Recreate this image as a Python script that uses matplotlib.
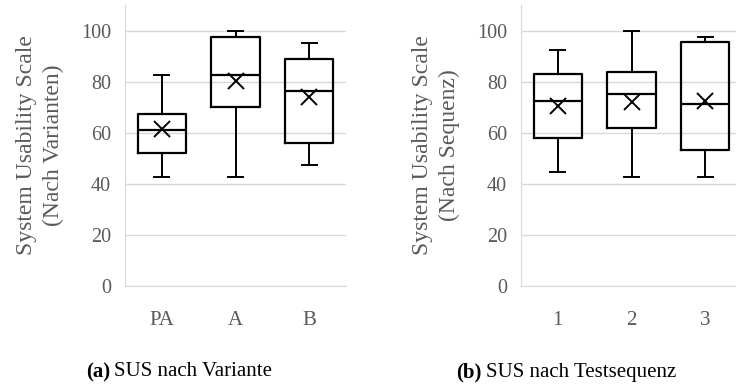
import matplotlib.pyplot as plt

# box statistics (whisker low, Q1, median, Q3, whisker high, mean)
variants = ["PA", "A", "B"]
var_low = [42.5, 42.5, 47.5]
var_q1 = [52.2, 70.0, 56.1]
var_med = [61.1, 82.5, 76.2]
var_q3 = [67.4, 97.5, 88.8]
var_high = [82.5, 100.0, 95.0]
var_mean = [61.4, 80.4, 73.8]

sequences = ["1", "2", "3"]
seq_low = [44.8, 42.5, 42.5]
seq_q1 = [58.1, 61.9, 53.1]
seq_med = [72.5, 75.0, 71.3]
seq_q3 = [83.0, 83.8, 95.6]
seq_high = [92.5, 100.0, 97.5]
seq_mean = [70.3, 72.2, 72.6]

plt.rcParams['font.family'] = ['Liberation Serif', 'DejaVu Serif']
gray = "#595959"


def make_stats(labels, low, q1, med, q3, high, mean):
    stats = []
    for i in range(len(labels)):
        stats.append({"label": labels[i], "whislo": low[i], "q1": q1[i], "med": med[i],
                      "q3": q3[i], "whishi": high[i], "mean": mean[i]})
    return stats


def draw(ax, stats, ylabel):
    ax.bxp(stats, positions=[1, 2, 3], widths=0.66, showmeans=True, showfliers=False,
           boxprops=dict(color="black", linewidth=1.6),
           medianprops=dict(color="black", linewidth=1.6),
           whiskerprops=dict(color="black", linewidth=1.4),
           capprops=dict(color="black", linewidth=1.4),
           capwidths=0.2,
           meanprops=dict(marker="x", markeredgecolor="black", markersize=12, markeredgewidth=1.4))
    ax.set_xlim(0.5, 3.5)
    ax.set_ylim(0, 110)
    ax.set_yticks([0, 20, 40, 60, 80, 100])
    ax.yaxis.grid(True, color="#d9d9d9", linewidth=1)
    ax.set_axisbelow(True)
    for s in ["top", "right"]:
        ax.spines[s].set_visible(False)
    ax.spines["left"].set_color("#d9d9d9")
    ax.spines["bottom"].set_color("#d9d9d9")
    ax.tick_params(length=0, labelsize=14.5, colors=gray, pad=10)
    ax.tick_params(axis="x", labelsize=15, pad=18)
    ax.set_ylabel(ylabel, fontsize=17, color=gray, linespacing=1.4, labelpad=12)


fig = plt.figure(figsize=(7.36, 3.86), dpi=100)
ax1 = fig.add_axes([125 / 736, 100 / 386, 221 / 736, 281 / 386])
ax2 = fig.add_axes([521 / 736, 100 / 386, 221 / 736, 281 / 386])

draw(ax1, make_stats(variants, var_low, var_q1, var_med, var_q3, var_high, var_mean),
     "System Usability Scale\n(Nach Varianten)")
draw(ax2, make_stats(sequences, seq_low, seq_q1, seq_med, seq_q3, seq_high, seq_mean),
     "System Usability Scale\n(Nach Sequenz)")

cap_y = 1 - 372 / 386
fig.text(86 / 736, cap_y, "(a)", fontsize=15, fontweight="bold", va="center", ha="left")
fig.text(114 / 736, cap_y, "SUS nach Variante", fontsize=15, va="center", ha="left")
fig.text(456 / 736, cap_y, "(b)", fontsize=15, fontweight="bold", va="center", ha="left")
fig.text(486 / 736, cap_y, "SUS nach Testsequenz", fontsize=15, va="center", ha="left")

plt.savefig("out.png", dpi=100)
